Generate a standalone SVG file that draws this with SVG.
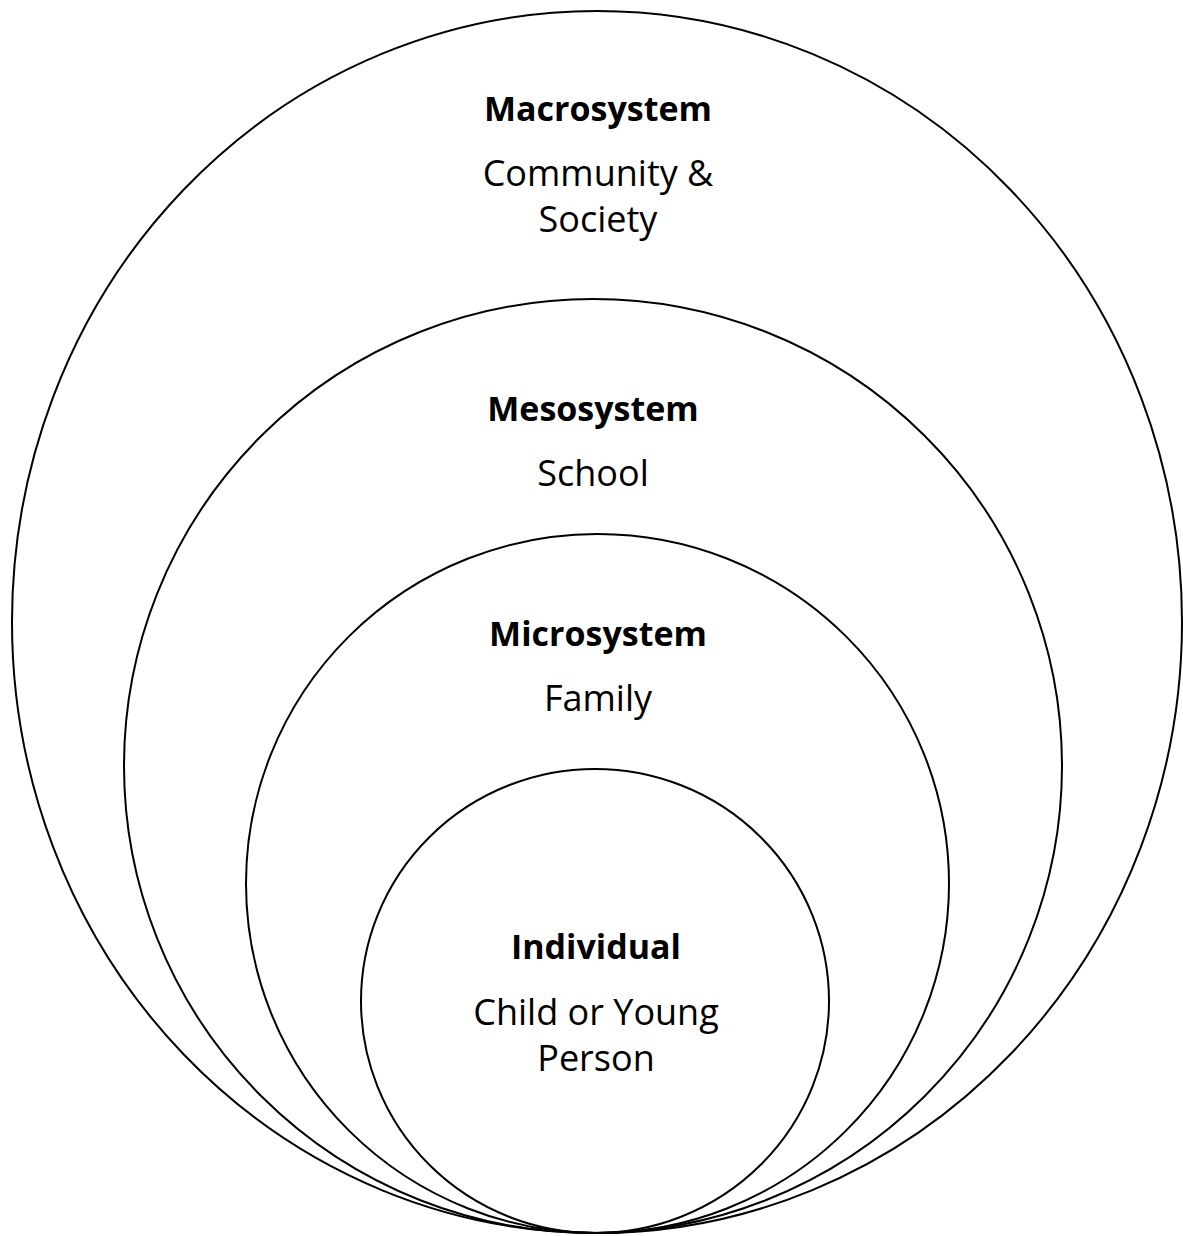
<svg xmlns="http://www.w3.org/2000/svg" width="1183" height="1236" viewBox="0 0 1183 1236">
<style>
.ring{fill:none;stroke:#000;stroke-width:2}
.t{font-family:"Open Sans","Liberation Sans",sans-serif;font-size:36px;text-anchor:middle;fill:#000}
.b{font-weight:bold;font-size:34px}
</style>
<rect width="1183" height="1236" fill="#fff"/>
<g id="macrosystem">
<ellipse class="ring" cx="597" cy="622" rx="585" ry="611"/>
<text class="t b" x="598" y="121">Macrosystem</text>
<text class="t" x="598" y="186">Community &amp;</text>
<text class="t" x="598" y="232">Society</text>
</g>
<g id="mesosystem">
<ellipse class="ring" cx="593" cy="766" rx="469" ry="467"/>
<text class="t b" x="593" y="421">Mesosystem</text>
<text class="t" x="593" y="486">School</text>
</g>
<g id="microsystem">
<ellipse class="ring" cx="597.5" cy="883.5" rx="351.5" ry="349.5"/>
<text class="t b" x="598" y="646">Microsystem</text>
<text class="t" x="598" y="711">Family</text>
</g>
<g id="individual">
<ellipse class="ring" cx="595" cy="1001" rx="234" ry="232"/>
<text class="t b" x="596" y="959">Individual</text>
<text class="t" x="596" y="1025">Child or Young</text>
<text class="t" x="596" y="1071">Person</text>
</g>
<g id="connectors"></g>
</svg>
